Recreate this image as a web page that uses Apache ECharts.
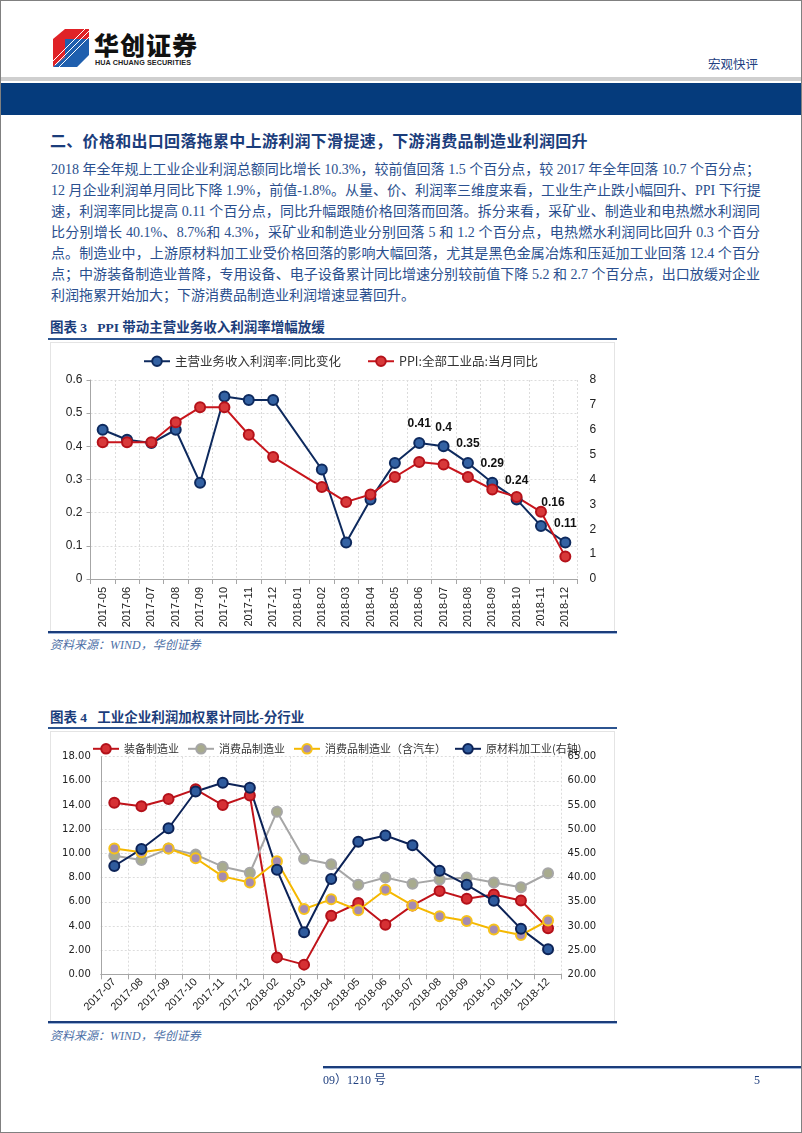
<!DOCTYPE html>
<html>
<head>
<meta charset="utf-8">
<script src="https://cdn.jsdelivr.net/npm/echarts@6.0.0/dist/echarts.min.js"></script>
<style>
  html, body { margin: 0; padding: 0; background: #fff; }
  .page { position: relative; width: 802px; height: 1133px; overflow: hidden; }
  .frame { position: absolute; left: 0; top: 0; width: 802px; height: 1133px; box-sizing: border-box; border: 1px solid #808080; }
  .abs { position: absolute; }
  .logo-cn { font-family: "Noto Sans CJK SC"; font-weight: 900; font-size: 25px; color: #111; letter-spacing: 1px; line-height: 26px; }
  .logo-en { font-family: "Liberation Sans"; font-weight: bold; font-size: 7.2px; color: #222; letter-spacing: 0.1px; }
  .kind { font-family: "Noto Sans CJK SC"; font-size: 12.5px; color: #1f3f7f; }
  .heading { font-family: "Noto Sans CJK SC"; font-weight: bold; font-size: 16px; color: #1b3d7b; letter-spacing: 0.3px; line-height: 24px; white-space: nowrap; }
  .body { font-family: "Liberation Serif", "Noto Sans CJK SC"; font-size: 14px; color: #2a4f8e; width: 709px; }
  .body div { height: 21px; line-height: 21px; text-align: justify; text-align-last: justify; white-space: nowrap; }
  .body div.last { text-align-last: left; }
  .ctitle { font-family: "Liberation Serif", "Noto Sans CJK SC"; font-weight: bold; font-size: 13.5px; color: #1b3d7b; line-height: 20px; white-space: nowrap; }
  .uline { height: 2px; background: #2c5490; }
  .bline { height: 2px; background: #1b3d7b; border-bottom: 1px solid #9db5da; }
  .cframe { border: 1px solid #e4e4e4; box-sizing: border-box; }
  .src { font-family: "Liberation Serif", "Noto Sans CJK SC"; font-style: italic; font-size: 12px; color: #4d6fa6; line-height: 16px; }
  .foot { font-family: "Liberation Serif", "Noto Sans CJK SC"; font-size: 12px; color: #1f3f7f; line-height: 16px; }
</style>
</head>
<body>
<div class="page">
  <!-- header -->
  <svg class="abs" style="left:53px;top:29px" width="38" height="38" viewBox="0 0 38 38">
    <polygon points="0,10 12,0 12,28 0,38" fill="#e02227"/>
    <polygon points="12,0 36,0 36,10 24,10 24,28 12,28" fill="#e02227"/>
    <polygon points="12,10 24,10 24,28 12,28" fill="#1f5fae"/>
    <polygon points="24,10 36,10 36,26 24,38 0,38 12,28 24,28" fill="#1f5fae"/>
    <g stroke="#fff" stroke-width="1">
      <line x1="2" y1="36" x2="36" y2="2"/>
      <line x1="6" y1="38" x2="38" y2="6"/>
      <line x1="0" y1="32" x2="32" y2="0"/>
    </g>
  </svg>
  <div class="abs logo-cn" style="left:94px;top:31px">华创证券</div>
  <div class="abs logo-en" style="left:95px;top:58px">HUA CHUANG SECURITIES</div>
  <div class="abs kind" style="left:708px;top:54px">宏观快评</div>
  <div class="abs" style="left:0;top:77px;width:802px;height:4px;background:#cfcfcf"></div>
  <div class="abs" style="left:0;top:83px;width:802px;height:32px;background:#053b7c"></div>

  <!-- section text -->
  <div class="abs heading" style="left:50px;top:128px">二、价格和出口回落拖累中上游利润下滑提速，下游消费品制造业利润回升</div>
  <div class="abs body" style="left:51px;top:159px">
    <div>2018 年全年规上工业企业利润总额同比增长 10.3%，较前值回落 1.5 个百分点，较 2017 年全年回落 10.7 个百分点；</div>
    <div>12 月企业利润单月同比下降 1.9%，前值-1.8%。从量、价、利润率三维度来看，工业生产止跌小幅回升、PPI 下行提</div>
    <div>速，利润率同比提高 0.11 个百分点，同比升幅跟随价格回落而回落。拆分来看，采矿业、制造业和电热燃水利润同</div>
    <div>比分别增长 40.1%、8.7%和 4.3%，采矿业和制造业分别回落 5 和 1.2 个百分点，电热燃水利润同比回升 0.3 个百分</div>
    <div>点。制造业中，上游原材料加工业受价格回落的影响大幅回落，尤其是黑色金属冶炼和压延加工业回落 12.4 个百分</div>
    <div>点；中游装备制造业普降，专用设备、电子设备累计同比增速分别较前值下降 5.2 和 2.7 个百分点，出口放缓对企业</div>
    <div class="last">利润拖累开始加大；下游消费品制造业利润增速显著回升。</div>
  </div>

  <!-- figure 3 -->
  <div class="abs ctitle" style="left:50px;top:318px">图表 3&nbsp;&nbsp;&nbsp;PPI 带动主营业务收入利润率增幅放缓</div>
  <div class="abs uline" style="left:48px;top:338px;width:569px"></div>
  <div class="abs cframe" style="left:50px;top:342px;width:565px;height:290px"></div>
  <div class="abs" id="chart3" style="left:48px;top:342px;width:569px;height:289px"></div>
  <div class="abs bline" style="left:48px;top:631px;width:569px"></div>
  <div class="abs src" style="left:50px;top:637px">资料来源：WIND，华创证券</div>

  <!-- figure 4 -->
  <div class="abs ctitle" style="left:50px;top:708px">图表 4&nbsp;&nbsp;&nbsp;工业企业利润加权累计同比-分行业</div>
  <div class="abs uline" style="left:48px;top:727px;width:569px"></div>
  <div class="abs cframe" style="left:50px;top:731px;width:565px;height:291px"></div>
  <div class="abs" id="chart4" style="left:48px;top:731px;width:569px;height:290px"></div>
  <div class="abs bline" style="left:48px;top:1021px;width:569px"></div>
  <div class="abs src" style="left:50px;top:1028px">资料来源：WIND，华创证券</div>

  <!-- footer -->
  <div class="abs" style="left:323px;top:1066px;width:479px;height:2px;background:#1b3d7b;border-bottom:1px solid #9db5da"></div>
  <div class="abs foot" style="left:323px;top:1072px">09）1210 号</div>
  <div class="abs foot" style="left:754px;top:1072px">5</div>

  <div class="frame"></div>
</div>

<script>
// ---- figure 3 data ----
const months3 = ['2017-05', '2017-06', '2017-07', '2017-08', '2017-09', '2017-10', '2017-11', '2017-12',
  '2018-01', '2018-02', '2018-03', '2018-04', '2018-05', '2018-06', '2018-07', '2018-08', '2018-09',
  '2018-10', '2018-11', '2018-12'];
const marginYoy = [0.45, 0.42, 0.41, 0.45, 0.29, 0.55, 0.54, 0.54, null, 0.33, 0.11, 0.24, 0.35, 0.41,
  0.40, 0.35, 0.29, 0.24, 0.16, 0.11];
const ppiYoy = [5.5, 5.5, 5.5, 6.3, 6.9, 6.9, 5.8, 4.9, null, 3.7, 3.1, 3.4, 4.1, 4.7, 4.6, 4.1, 3.6,
  3.3, 2.7, 0.9];
const labelledFrom3 = 13; // 2018-06 onwards carry value labels
const names3 = ['主营业务收入利润率:同比变化', 'PPI:全部工业品:当月同比'];

// ---- figure 4 data ----
const months4 = ['2017-07', '2017-08', '2017-09', '2017-10', '2017-11', '2017-12', '2018-02', '2018-03',
  '2018-04', '2018-05', '2018-06', '2018-07', '2018-08', '2018-09', '2018-10', '2018-11', '2018-12'];
const equipment = [14.2, 13.9, 14.5, 15.3, 14.0, 14.8, 1.4, 0.8, 4.85, 5.9, 4.1, 5.7, 6.9, 6.25, 6.6, 6.1, 3.8];
const consumer = [9.8, 9.45, 10.4, 9.9, 8.9, 8.4, 13.45, 9.55, 9.1, 7.4, 8.0, 7.5, 7.85, 8.0, 7.6, 7.2, 8.35];
const consumerAuto = [10.4, 10.1, 10.4, 9.6, 8.1, 7.6, 9.35, 5.4, 6.2, 5.3, 7.0, 5.7, 4.8, 4.4, 3.7, 3.25, 4.45];
const rawMaterial = [42.4, 45.9, 50.2, 57.8, 59.6, 58.6, 41.6, 28.7, 39.7, 47.4, 48.7, 46.7, 41.4, 38.5, 35.2, 29.4, 25.2];
const names4 = ['装备制造业', '消费品制造业', '消费品制造业（含汽车）', '原材料加工业(右轴)'];

const gridLine = { show: true, lineStyle: { color: '#dcdcdc', type: [2, 2], width: 1 } };
const sansFont = 'Liberation Sans';

// ---------- chart 3 ----------
const chart3 = echarts.init(document.getElementById('chart3'));
chart3.setOption({
  animation: false,
  legend: {
    left: 90, top: 8, itemWidth: 26, itemHeight: 12, itemGap: 26,
    textStyle: { fontFamily: 'Noto Sans CJK SC', fontSize: 12.5, color: '#333' },
    data: names3
  },
  grid: { left: 42.5, right: 39.5, top: 38, bottom: 52 },
  xAxis: {
    type: 'category', data: months3, boundaryGap: true,
    axisLine: { lineStyle: { color: '#a6a6a6' } },
    axisTick: { show: true, length: 5, lineStyle: { color: '#a6a6a6' } },
    axisLabel: { rotate: 90, fontFamily: sansFont, fontSize: 11, color: '#222', margin: 8 },
    splitLine: gridLine
  },
  yAxis: [
    {
      type: 'value', min: 0, max: 0.6, interval: 0.1,
      axisLine: { show: true, lineStyle: { color: '#a6a6a6' } },
      axisTick: { show: true, length: 4, lineStyle: { color: '#a6a6a6' } },
      axisLabel: { fontFamily: sansFont, fontSize: 12, color: '#222', margin: 8 },
      splitLine: gridLine
    },
    {
      type: 'value', min: 0, max: 8, interval: 1, position: 'right',
      axisLine: { show: false }, axisTick: { show: false },
      axisLabel: { fontFamily: sansFont, fontSize: 12, color: '#222', margin: 12 },
      splitLine: { show: false }
    }
  ],
  series: [
    {
      name: names3[0], type: 'line', yAxisIndex: 0, connectNulls: true,
      symbol: 'circle', symbolSize: 10,
      lineStyle: { color: '#0e2a5e', width: 2 },
      itemStyle: { color: '#3462a3', borderColor: '#0e2a5e', borderWidth: 2 },
      data: marginYoy.map((v, i) => i >= labelledFrom3 ? {
        value: v,
        label: {
          show: true, position: 'top', distance: 7,
          offset: i === months3.length - 2 ? [12, -4] : [0, 0],
          fontFamily: sansFont, fontWeight: 'bold', fontSize: 12, color: '#111'
        }
      } : v)
    },
    {
      name: names3[1], type: 'line', yAxisIndex: 1, connectNulls: true,
      symbol: 'circle', symbolSize: 10,
      lineStyle: { color: '#c8151c', width: 2 },
      itemStyle: { color: '#d8393a', borderColor: '#b5121a', borderWidth: 2 },
      data: ppiYoy
    }
  ]
});

// ---------- chart 4 ----------
const chart4 = echarts.init(document.getElementById('chart4'));
const twoDp = v => v.toFixed(2);
const lineSeries = (name, data, line, fill, border, axis) => ({
  name, type: 'line', yAxisIndex: axis, data,
  symbol: 'circle', symbolSize: 10,
  lineStyle: { color: line, width: 2 },
  itemStyle: { color: fill, borderColor: border, borderWidth: 2 }
});
chart4.setOption({
  animation: false,
  legend: {
    left: 39, top: 7, itemWidth: 26, itemHeight: 12, itemGap: 8,
    textStyle: { fontFamily: 'Noto Sans CJK SC', fontSize: 11, color: '#333' },
    data: names4
  },
  grid: { left: 52.75, right: 55.4, top: 25.7, bottom: 46.7 },
  xAxis: {
    type: 'category', data: months4, boundaryGap: true,
    axisLine: { lineStyle: { color: '#a6a6a6' } },
    axisTick: { show: true, length: 5, lineStyle: { color: '#a6a6a6' } },
    axisLabel: { rotate: 45, fontFamily: sansFont, fontSize: 11, color: '#222', margin: 6 },
    splitLine: gridLine
  },
  yAxis: [
    {
      type: 'value', min: 0, max: 18, interval: 2,
      axisLine: { show: true, lineStyle: { color: '#a6a6a6' } },
      axisTick: { show: false },
      axisLabel: { formatter: twoDp, fontFamily: 'DejaVu Sans', fontSize: 10, color: '#222', margin: 10 },
      splitLine: gridLine
    },
    {
      type: 'value', min: 20, max: 65, interval: 5, position: 'right',
      axisLine: { show: false }, axisTick: { show: false },
      axisLabel: { formatter: twoDp, fontFamily: 'DejaVu Sans', fontSize: 10, color: '#222', margin: 6 },
      splitLine: { show: false }
    }
  ],
  series: [
    lineSeries(names4[0], equipment, '#c0131a', '#d63034', '#b3111a', 0),
    lineSeries(names4[1], consumer, '#a6a6a6', '#a8ab8e', '#a6a6a6', 0),
    lineSeries(names4[2], consumerAuto, '#f5b800', '#a48bb2', '#f7c21b', 0),
    lineSeries(names4[3], rawMaterial, '#0c2357', '#2f5b9d', '#0c2357', 1)
  ]
});
</script>
</body>
</html>
